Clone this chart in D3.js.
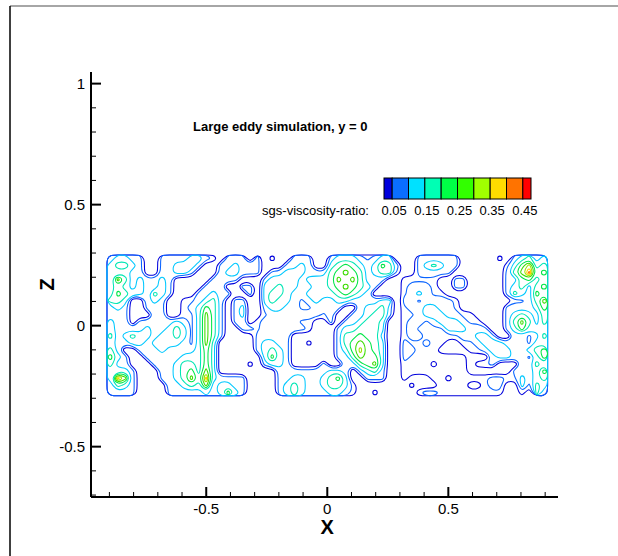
<!DOCTYPE html>
<html><head><meta charset="utf-8">
<script src="https://cdn.jsdelivr.net/npm/d3@7"></script>
<style>body{margin:0;background:#fff;} svg{display:block;font-family:"Liberation Sans",Arial,Helvetica,sans-serif;}</style>
</head><body><svg id="chart" width="618" height="556"></svg>
<script>
// Field: each digit = the contour band a cell lies in (0: below 0.05, 1: 0.05-0.10, 2: 0.10-0.15 ...)
// rows run from the top of the domain (z = +0.29) to the bottom (z = -0.29)
const fieldRows = [
"2332200222"+"2332102220"+"2010022200"+"2333212330"+"0022222200"+"0001023423",
"3443200223"+"3320022322"+"2000223200"+"3454323542"+"0023432200"+"0000135734",
"3332200223"+"3200023322"+"2022333222"+"4565423441"+"0022222000"+"0000246945",
"3642322320"+"0000222200"+"0233332333"+"4656422200"+"1111100220"+"0000224534",
"3432322320"+"0002220022"+"0334332233"+"4565432000"+"1222100220"+"0000234245",
"3543324320"+"0022322002"+"0344322333"+"3454320000"+"1232110000"+"0000243254",
"4430023200"+"1123420220"+"0343321232"+"2332222330"+"2212222100"+"0000011246",
"2320022200"+"1235420230"+"0233221122"+"2200233420"+"1223322100"+"0000222235",
"2220002200"+"1136420230"+"0122222221"+"2002234420"+"1123332211"+"0000234324",
"3220222223"+"2136420220"+"1222221100"+"2022344300"+"1221233321"+"1000246424",
"3222232234"+"3136420022"+"1222222100"+"0233444300"+"1211113332"+"2200235333",
"4234332334"+"3136420000"+"2222200000"+"0244544200"+"1221111122"+"3320022124",
"3223323333"+"2136300000"+"2332200100"+"0245654300"+"2112110011"+"2333222133",
"4200222322"+"2235300000"+"2343200000"+"0235754300"+"2211100001"+"1233322345",
"5320022222"+"3335300000"+"0353200000"+"0224655300"+"2111111110"+"0023322135",
"4220002223"+"4435300001"+"0233200002"+"0022456300"+"1111011110"+"1120002243",
"3332000223"+"4536300000"+"0002222222"+"3320234200"+"1111111110"+"0000022235",
"3862000223"+"4648322220"+"0002233223"+"4530022200"+"1000110111"+"1122113234",
"2432000022"+"3436233220"+"0002343223"+"4431000000"+"0100011110"+"0122003143",
"2222000022"+"2223235320"+"0002343222"+"3321001000"+"0012211111"+"1111001042"
];
// representative value of each band (band 1 sits just under 0.10, higher bands at mid-band)
const bandValues = [0.0, 0.09, 0.125, 0.175, 0.225, 0.275, 0.325, 0.375, 0.425, 0.475];
const gridX = [-0.91, 0.91];
const gridZ = [-0.29, 0.292];
const levels = [0.05, 0.10, 0.15, 0.20, 0.25, 0.30, 0.35, 0.40, 0.45];
const levelColors = ["#0000dc","#0a64ff","#00c8ff","#00e6b4","#00e646","#3cdc00","#9ee600","#ffd200","#ff7300"];
const legendColors = ["#0000dc","#0a6eff","#00e1ff","#00ffb4","#00ff46","#32ff00","#a0ff00","#ffdc00","#ff7300","#ff0000"];
const legendTickLabels = [0.05, 0.15, 0.25, 0.35, 0.45];
const xMajorTicks = [-0.5, 0, 0.5];
const zMajorTicks = [-0.5, 0, 0.5, 1];
const xMinorTicks = d3.range(-9, 10).map(i => i / 10);
const zMinorTicks = d3.range(-7, 11).map(i => i / 10);
const titleText = "Large eddy simulation, y = 0";
const legendTitle = "sgs-viscosity-ratio:";

const svg = d3.select("#chart");
const x = d3.scaleLinear().domain([-0.976, 0.953]).range([91, 558]);
const z = d3.scaleLinear().domain([-0.708, 1.048]).range([497, 72]);

// frame
svg.append("line").attr("x1",10).attr("y1",6).attr("x2",618).attr("y2",6).attr("stroke","#888").attr("stroke-width",1.5);
svg.append("line").attr("x1",10).attr("y1",6).attr("x2",10).attr("y2",556).attr("stroke","#000").attr("stroke-width",1.5);

// contours
const nx = fieldRows[0].length, nz = fieldRows.length;
const values = fieldRows.flatMap(r => Array.from(r, c => bandValues[+c]));
const contours = d3.contours().size([nx, nz]).thresholds(levels)(values);
const gx = d3.scaleLinear().domain([0, nx]).range([x(gridX[0]), x(gridX[1])]);
const gz = d3.scaleLinear().domain([0, nz]).range([z(gridZ[1]), z(gridZ[0])]);
const ringLine = d3.line().curve(d3.curveBasisClosed);
function contourPath(mp) {
  let s = "";
  mp.coordinates.forEach(poly => poly.forEach(ring => {
    const pts = ring.slice(0, -1).map(p => [gx(p[0]), gz(p[1])]);
    if (pts.length > 2) s += ringLine(pts);
  }));
  return s;
}
svg.append("g").selectAll("path").data(contours).join("path")
  .attr("d", contourPath).attr("fill","none")
  .attr("stroke", (d,i) => levelColors[i]).attr("stroke-width",1.05).attr("stroke-linejoin","round");

// axes
const ax = svg.append("g").attr("stroke","#000");
ax.append("line").attr("x1",x.range()[0]).attr("x2",x.range()[1]).attr("y1",z.range()[0]).attr("y2",z.range()[0]).attr("stroke-width",2);
ax.append("line").attr("x1",x.range()[0]).attr("x2",x.range()[0]).attr("y1",z.range()[0]).attr("y2",z.range()[1]).attr("stroke-width",2);
xMinorTicks.forEach(v => ax.append("line").attr("x1",x(v)).attr("x2",x(v)).attr("y1",z.range()[0]).attr("y2",z.range()[0]-(xMajorTicks.includes(v)?10:5)).attr("stroke-width",xMajorTicks.includes(v)?2:1));
zMinorTicks.forEach(v => ax.append("line").attr("y1",z(v)).attr("y2",z(v)).attr("x1",x.range()[0]).attr("x2",x.range()[0]+(zMajorTicks.includes(v)?10:5)).attr("stroke-width",zMajorTicks.includes(v)?2:1));

const fmt = v => String(v);
svg.append("g").selectAll("text").data(xMajorTicks).join("text")
  .attr("x", d => x(d)).attr("y", 514).attr("text-anchor","middle").attr("font-size",15).text(fmt);
svg.append("g").selectAll("text").data(zMajorTicks).join("text")
  .attr("x", 85).attr("y", d => z(d)).attr("dy","0.36em").attr("text-anchor","end").attr("font-size",15).text(fmt);

svg.append("text").attr("x", x(0)).attr("y", 534).attr("text-anchor","middle").attr("font-size",20).attr("font-weight","bold").text("X");
svg.append("text").attr("transform", `translate(54,${z(0.17)}) rotate(-90)`).attr("text-anchor","middle").attr("font-size",20).attr("font-weight","bold").text("Z");

// title
svg.append("text").attr("x",193).attr("y",130.5).attr("font-size",13).attr("font-weight","bold").text(titleText);

// legend
const lvlStep = levels[1] - levels[0];
const bounds = [levels[0]-lvlStep/2, ...levels, levels[levels.length-1]+lvlStep/2];
const ls = d3.scaleLinear().domain([bounds[0], bounds[bounds.length-1]]).range([384, 531]);
svg.append("g").selectAll("rect").data(legendColors).join("rect")
  .attr("x", (d,i) => ls(bounds[i])).attr("width", (d,i) => ls(bounds[i+1]) - ls(bounds[i]))
  .attr("y", 178).attr("height", 21).attr("fill", d => d).attr("stroke","#000").attr("stroke-width",1);
svg.append("g").selectAll("text").data(legendTickLabels).join("text")
  .attr("x", d => ls(d) + 2).attr("y", 215).attr("text-anchor","middle").attr("font-size",13).text(d => d.toFixed(2));
svg.append("text").attr("x", 369).attr("y", 215).attr("text-anchor","end").attr("font-size",13).text(legendTitle);
</script></body></html>
